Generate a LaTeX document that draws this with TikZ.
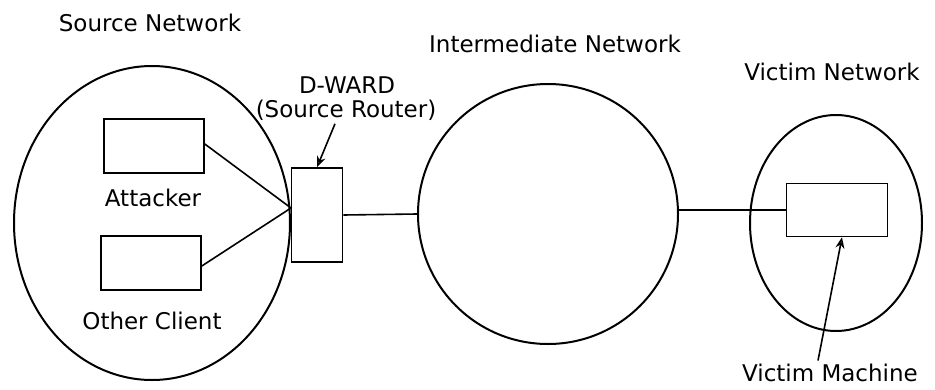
\documentclass[tikz,border=0pt]{standalone}
\usepackage{fontspec}
\setmainfont{DejaVu Sans}
\usepackage{tikz}
\usetikzlibrary{shapes.geometric, arrows.meta}

\tikzset{
  net/.style={draw, line width=2pt, inner sep=0pt},
  host/.style={draw, line width=1.6pt, minimum width=100pt, minimum height=54pt, inner sep=0pt},
  link/.style={line width=1.6pt},
  pointer/.style={line width=1.6pt, -{Stealth[open, length=11pt, width=9pt]}}
}

\begin{document}
\begin{tikzpicture}[x=1pt, y=-1pt, font=\fontsize{23}{27}\selectfont]
    \useasboundingbox (0,0) rectangle (935,389);
    % networks
    \node[net, ellipse, minimum width=276pt, minimum height=314pt] (srcnet) at (152,223) {};
    \node[net, circle, minimum size=260pt] (inter) at (548,214) {};
    \node[net, ellipse, minimum width=172pt, minimum height=216pt] (vicnet) at (836,223) {};
    \node (srclbl) at (150,23) {Source Network};
    \node (interlbl) at (555,44) {Intermediate Network};
    \node (viclbl) at (832,72) {Victim Network};
    % hosts
    \node[host] (attacker) at (154,146) {};
    \node (attlbl) at (153,198) {Attacker};
    \node[host] (client) at (151,263) {};
    \node (clilbl) at (152,321) {Other Client};
    \node[host, minimum width=51pt, minimum height=94pt] (router) at (317,215) {};
    \node (dward) at (347,85) {D-WARD};
    \node (dwardsub) at (346,110) {(Source Router)};
    \node[host, minimum width=101pt, minimum height=53pt] (vbox) at (837,210) {};
    \node (vmach) at (830,373) {Victim Machine};
    % connectors
    \coordinate (rin) at (291,208);
    \draw[link] ([yshift=2pt]attacker.east) -- (rin);
    \draw[link] ([yshift=-3pt]client.east) -- (rin);
    \draw[link] (router.east) -- (inter.west);
    \draw[link] (vbox.west -| inter.east) -- (vbox.west);
    \draw[pointer] ([xshift=-11pt]dwardsub.south) -- (router.north);
    \draw[pointer] ([xshift=-12pt]vmach.north) -- ([xshift=5pt]vbox.south);
\end{tikzpicture}
\end{document}
